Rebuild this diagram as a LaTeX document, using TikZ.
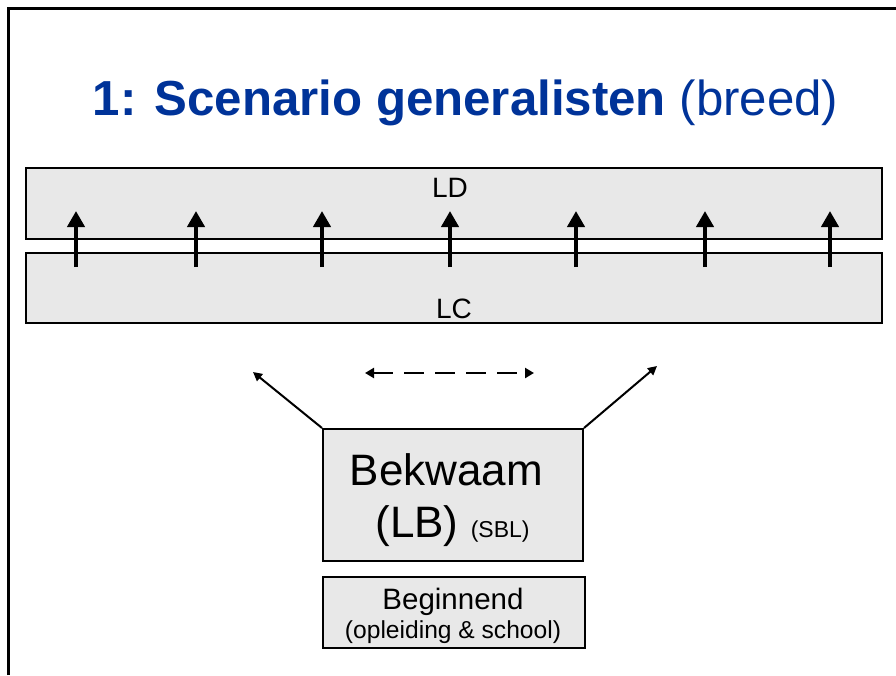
\documentclass[tikz,border=0pt]{standalone}
\usepackage{fontspec}
\setmainfont{Liberation Sans}
\usetikzlibrary{arrows.meta}
\definecolor{titleblue}{HTML}{003399}
\definecolor{boxgray}{HTML}{E8E8E8}
\begin{document}
\begin{tikzpicture}[x=1pt,y=-1pt,
  box/.style={draw=black,line width=2pt,fill=boxgray,inner sep=0pt,rectangle},
  lbl/.style={inner sep=0pt,anchor=base},
  lift/.style={line width=4.5pt,-{Triangle[width=17pt,length=16pt]}},
  thinarrow/.style={line width=2pt,-{Triangle[width=9pt,length=9pt]}},
  swing/.style={line width=2.5pt,dash pattern=on 20pt off 11pt,
    {Triangle[width=10pt,length=9pt]}-{Triangle[width=10pt,length=9pt]}}
]
\useasboundingbox (0,0) rectangle (896,675);
% slide frame (top and left edges)
\draw[line width=3pt] (8,675) -- (8,8) -- (896,8);

% title
\node[lbl,text=titleblue,font=\fontsize{49.2}{49.2}\selectfont] (title) at (465.5,115)
  {\textbf{1: Scenario generalisten} (breed)};

% LD and LC bands
\node[box,minimum width=856pt,minimum height=71pt] (ld) at (454,203.5) {};
\node[box,minimum width=856pt,minimum height=70pt] (lc) at (454,288) {};
\node[lbl,font=\fontsize{28}{28}\selectfont] (ldt) at (450,197) {LD};
\node[lbl,font=\fontsize{28}{28}\selectfont] (lct) at (454,318) {LC};

% upward arrows from LC into LD
\foreach \x [count=\i] in {76,196,322,450,576,705,830} {
  \coordinate (up\i a) at (\x,267);
  \coordinate (up\i b) at (\x,211);
  \draw[lift] (up\i a) -- (up\i b);
}

% Bekwaam box
\node[box,minimum width=260pt,minimum height=132pt] (bek) at (453,495) {};
\node[lbl,font=\fontsize{44}{44}\selectfont] (bek1) at (446.5,485) {Bekwaam};
\node[lbl,font=\fontsize{44}{44}\selectfont] (bek2) at (452.5,537)
  {(LB) {\fontsize{23}{23}\selectfont (SBL)}};

% Beginnend box
\node[box,minimum width=262pt,minimum height=71pt] (beg) at (454,612.5) {};
\node[lbl,font=\fontsize{29.5}{29.5}\selectfont] (beg1) at (453,609) {Beginnend};
\node[lbl,font=\fontsize{24.6}{24.6}\selectfont] (beg2) at (453,638) {(opleiding \& school)};

% arrows from Bekwaam
\coordinate (ltip) at (253,372);
\coordinate (rtip) at (657,366);
\draw[thinarrow] (bek.north west) -- (ltip);
\draw[thinarrow] (bek.north east) -- (rtip);
\coordinate (dl) at (365,373);
\coordinate (dr) at (534,373);
\draw[swing] (dl) -- (dr);
\end{tikzpicture}
\end{document}
